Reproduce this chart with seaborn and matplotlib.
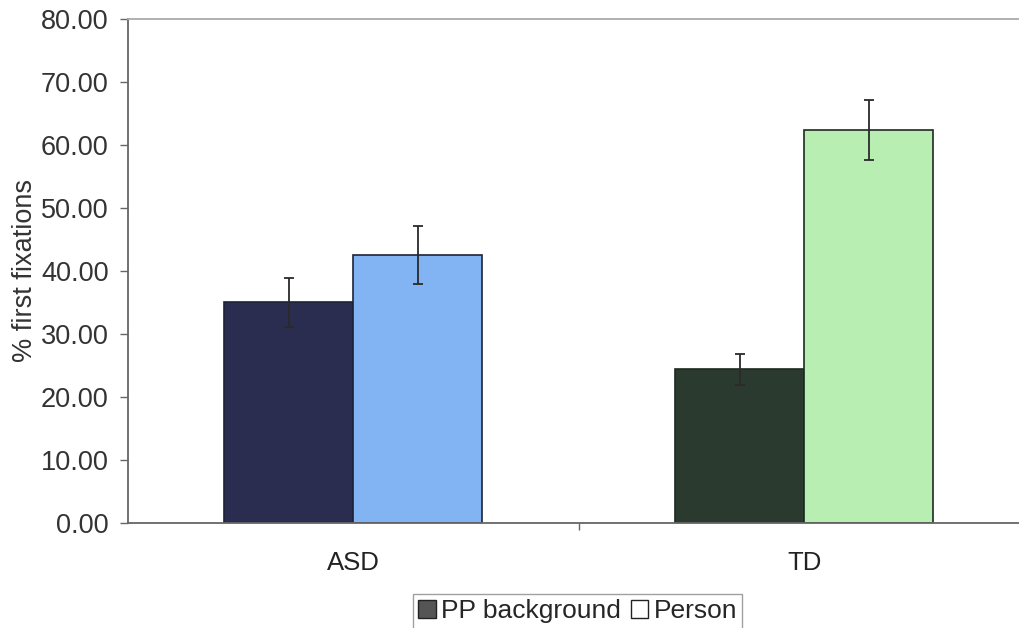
import pandas as pd
import matplotlib
matplotlib.use("Agg")
import matplotlib.pyplot as plt
import seaborn as sns
from matplotlib.patches import Patch

# data
groups = ["ASD", "TD"]
series = ["PP background", "Person"]
pp_means = [35.0, 24.4]
person_means = [42.5, 62.4]
pp_err = [3.9, 2.5]
person_err = [4.6, 4.8]
y_ticks = [0, 10, 20, 30, 40, 50, 60, 70, 80]

df = pd.DataFrame({
    "group": groups * 2,
    "series": [series[0]] * 2 + [series[1]] * 2,
    "value": pp_means + person_means,
    "err": pp_err + person_err,
})

sns.set_style("white")
plt.rcParams["font.family"] = ["Liberation Sans", "DejaVu Sans"]

fig = plt.figure(figsize=(10.19, 6.28), dpi=100)
ax = fig.add_axes([0.1256, 0.167, 0.885, 0.803])

sns.barplot(data=df, x="group", y="value", hue="series", order=groups,
            hue_order=series, width=0.572, gap=0, errorbar=None,
            legend=False, ax=ax)

# bar colours (each bar has its own fill in the original)
fills = {("ASD", 0): "#2b2d50", ("TD", 0): "#2b3a2f",
         ("ASD", 1): "#82b4f4", ("TD", 1): "#b8eeb2"}
edges = {"ASD": "#1e2238", "TD": "#1e2a20"}
bars = ax.patches
for s_idx in range(2):
    for g_idx, g in enumerate(groups):
        p = bars[s_idx * 2 + g_idx]
        p.set_facecolor(fills[(g, s_idx)])
        p.set_edgecolor(edges[g])
        p.set_linewidth(1.2)
        x = p.get_x() + p.get_width() / 2
        err = df["err"].iloc[s_idx * 2 + g_idx]
        ax.errorbar(x, p.get_height(), yerr=err, fmt="none",
                    ecolor="#2a2a2a", elinewidth=1.3, capsize=3.5, capthick=1.3)

ax.set_xlim(-0.5, 1.5)
ax.set_ylim(0, 80)
ax.set_yticks(y_ticks)
ax.set_yticklabels([f"{t:.2f}" for t in y_ticks], fontsize=19.5, color="#333333")
ax.set_xticks([0.5], minor=True)
ax.tick_params(axis="x", which="minor", length=5, width=1, color="#666666",
               direction="out", bottom=True)
ax.tick_params(axis="x", which="major", length=0, labelsize=18.5,
               labelcolor="#222222", pad=20)
ax.tick_params(axis="y", length=6, width=1, color="#666666", direction="out",
               left=True, pad=8)
ax.set_xlabel("")
ax.set_ylabel("% first fixations", fontsize=19.5, color="#333333", labelpad=2)

for side in ["left", "bottom"]:
    ax.spines[side].set_color("#666666")
    ax.spines[side].set_linewidth(1.3)
ax.spines["top"].set_color("#aaaaaa")
ax.spines["top"].set_linewidth(1.3)
ax.spines["right"].set_visible(False)

handles = [Patch(facecolor="#555555", edgecolor="#222222", label=series[0]),
           Patch(facecolor="white", edgecolor="#222222", label=series[1])]
leg = fig.legend(handles=handles, loc="lower center", ncol=2,
                 bbox_to_anchor=(0.567, -0.022), fontsize=19, frameon=True,
                 fancybox=False, handlelength=0.65, handleheight=0.65,
                 handletextpad=0.2, columnspacing=0.4, borderpad=0.2)
leg.get_frame().set_edgecolor("#888888")
leg.get_frame().set_linewidth(1)

fig.savefig("out.png", dpi=100)
